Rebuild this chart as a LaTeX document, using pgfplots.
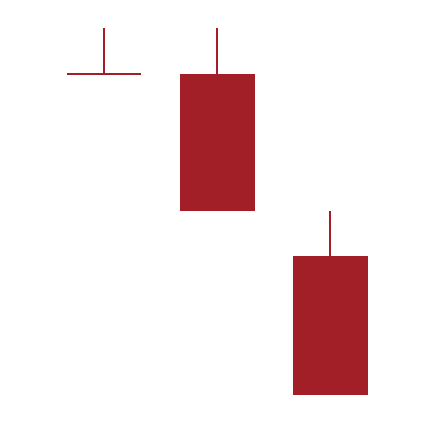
\documentclass[border=0pt]{standalone}
\usepackage{pgfplots}
\pgfplotsset{compat=1.18}
\definecolor{candle}{HTML}{A21F28}
\begin{document}
\begin{tikzpicture}
\begin{axis}[
  scale only axis, width=434pt, height=422pt,
  xmin=0, xmax=434, ymin=0, ymax=422,
  axis line style={draw=none}, ticks=none,
  clip=false,
]
% candle 1 (doji): open=close=348, high=394
\addplot[candle, line width=1.5pt] coordinates {(104,348) (104,394)};
\addplot[candle, line width=1.5pt] coordinates {(67,348) (141,348)};
% candle 2: open=348, close=211, high=394
\addplot[candle, line width=1.5pt] coordinates {(217,348) (217,394)};
\addplot[fill=candle, draw=none] coordinates {(179.5,348) (254.5,348) (254.5,211) (179.5,211)} -- cycle;
% candle 3: open=166, close=27, high=211
\addplot[candle, line width=1.5pt] coordinates {(330,166) (330,211)};
\addplot[fill=candle, draw=none] coordinates {(292.5,166) (367.5,166) (367.5,27) (292.5,27)} -- cycle;
\end{axis}
\end{tikzpicture}
\end{document}
